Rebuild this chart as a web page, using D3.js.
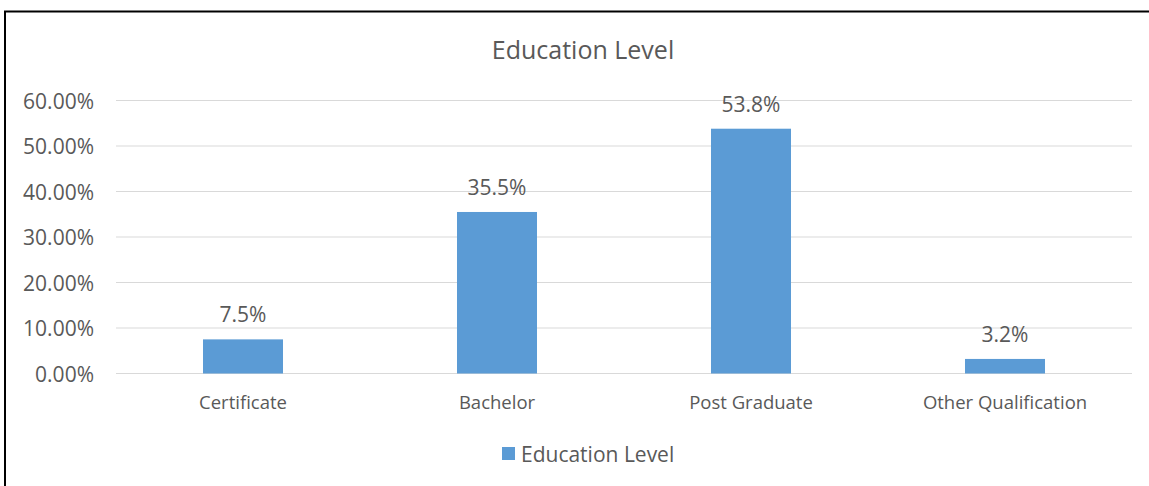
<!DOCTYPE html>
<html>
<head>
<meta charset="utf-8">
<script src="https://cdn.jsdelivr.net/npm/d3@7"></script>
<style>
  body { margin: 0; background: #fff; }
  svg { display: block; }
  text { font-family: "Open Sans", "Noto Sans", sans-serif; fill: #595959; }
</style>
</head>
<body>
<div id="chart"></div>
<script>
var categories = ["Certificate", "Bachelor", "Post Graduate", "Other Qualification"];
var values = [7.5, 35.5, 53.8, 3.2];
var yTicks = [0, 10, 20, 30, 40, 50, 60];
var seriesName = "Education Level";
var chartTitle = "Education Level";

const width = 1149;
const height = 486;

const svg = d3
  .select("#chart")
  .append("svg")
  .attr("width", width)
  .attr("height", height);

// outer frame: left + top only visible in the picture
svg
  .append("path")
  .attr("d", "M5," + height + " V11.5 H" + width)
  .attr("fill", "none")
  .attr("stroke", "#000")
  .attr("stroke-width", 2);

const xScale = d3.scaleBand().domain(categories).range([116, 1132]).paddingInner(0.685).paddingOuter(0.3425);
const yScale = d3.scaleLinear().domain([0, 60]).range([373.5, 100.5]);

// gridlines
svg
  .append("g")
  .selectAll("line")
  .data(yTicks)
  .enter()
  .append("line")
  .attr("x1", 116)
  .attr("x2", 1132)
  .attr("y1", (d) => yScale(d))
  .attr("y2", (d) => yScale(d))
  .attr("stroke", "#d9d9d9")
  .attr("stroke-width", 1);

// y axis labels
const yAxis = d3
  .axisLeft(yScale)
  .tickValues(yTicks)
  .tickSize(0)
  .tickPadding(0)
  .tickFormat((d) => d.toFixed(2) + "%");

svg
  .append("g")
  .attr("transform", "translate(94,0)")
  .call(yAxis)
  .call((g) => g.select(".domain").remove())
  .selectAll("text")
  .attr("font-size", 21)
  .attr("dy", "0.36em")
  .style("font-family", "'Open Sans', sans-serif")
  .attr("fill", "#595959");

// x axis labels
const xAxis = d3.axisBottom(xScale).tickSize(0).tickPadding(0);

svg
  .append("g")
  .attr("transform", "translate(0,402)")
  .call(xAxis)
  .call((g) => g.select(".domain").remove())
  .selectAll("text")
  .attr("font-size", 18.5)
  .attr("dy", "0.36em")
  .style("font-family", "'Open Sans', sans-serif")
  .attr("fill", "#595959");

// bars
svg
  .append("g")
  .selectAll("rect")
  .data(values)
  .enter()
  .append("rect")
  .attr("x", (d, i) => xScale(categories[i]))
  .attr("y", (d) => yScale(d))
  .attr("width", xScale.bandwidth())
  .attr("height", (d) => yScale(0) - yScale(d))
  .attr("fill", "#5b9bd5");

// value labels
svg
  .append("g")
  .selectAll("text")
  .data(values)
  .enter()
  .append("text")
  .attr("x", (d, i) => xScale(categories[i]) + xScale.bandwidth() / 2)
  .attr("y", (d) => yScale(d) - 17)
  .attr("text-anchor", "middle")
  .attr("font-size", 21)
  .attr("fill", "#404040")
  .text((d) => d.toFixed(1) + "%");

// title
svg
  .append("text")
  .attr("x", 583)
  .attr("y", 59)
  .attr("text-anchor", "middle")
  .attr("font-size", 25)
  .text(chartTitle);

// legend
svg
  .append("rect")
  .attr("x", 502)
  .attr("y", 447)
  .attr("width", 13)
  .attr("height", 13)
  .attr("fill", "#5b9bd5");

svg
  .append("text")
  .attr("x", 521)
  .attr("y", 462)
  .attr("font-size", 21)
  .text(seriesName);
</script>
</body>
</html>
